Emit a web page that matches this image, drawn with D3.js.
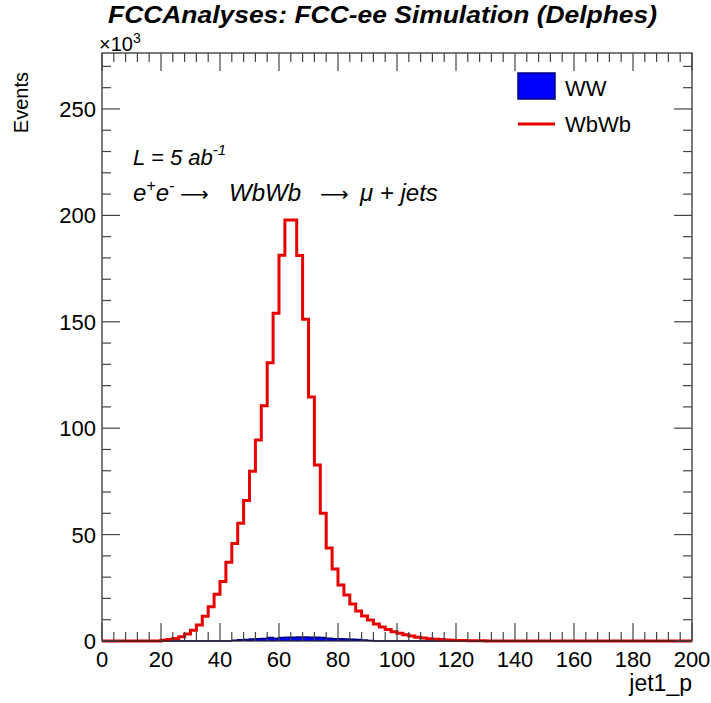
<!DOCTYPE html>
<html>
<head>
<meta charset="utf-8">
<script src="https://cdn.jsdelivr.net/npm/d3@7"></script>
<style>
  body { margin: 0; background: #fff; }
  svg { font-family: "Liberation Sans", Arial, sans-serif; }
</style>
</head>
<body>
<svg width="711" height="703"></svg>
<script>
// histogram binning: 100 bins from 0 to 200
const binEdges = d3.range(0, 202, 2);

// WbWb signal, events per bin (x10^3)
const wbwbValues = [
  0, 0, 0, 0, 0, 0, 0, 0, 0, 0.05,
  0.3, 0.7, 1.2, 2.0, 3.3, 5.0, 7.5, 11.6, 16.1, 22.0,
  28.0, 37.0, 45.8, 55.3, 66.0, 79.8, 94.5, 110.5, 130.8, 154.0,
  181.3, 197.8, 197.8, 181.2, 151.2, 114.6, 82.7, 60.0, 43.7, 33.8,
  26.3, 21.6, 17.4, 14.1, 11.8, 9.9, 8.0, 6.6, 5.4, 4.4,
  3.6, 2.9, 2.3, 1.8, 1.4, 1.1, 0.85, 0.65, 0.5, 0.38,
  0.28, 0.2, 0.15, 0.1, 0.07, 0.05, 0.04, 0.03, 0.02, 0.02,
  0.01, 0, 0, 0, 0, 0, 0, 0, 0, 0,
  0, 0, 0, 0, 0, 0, 0, 0, 0, 0,
  0, 0, 0, 0, 0, 0, 0, 0, 0, 0
];

// WW background, events per bin (x10^3)
const wwValues = [
  0, 0, 0, 0, 0, 0, 0, 0, 0, 0,
  0, 0, 0, 0, 0, 0, 0, 0, 0, 0,
  0, 0, 0.3, 0.6, 0.7, 0.9, 1.0, 1.2, 1.6, 1.3,
  1.7, 1.8, 1.8, 1.9, 1.9, 1.8, 1.8, 1.7, 1.3, 1.1,
  1.0, 0.9, 0.8, 0.7, 0.5, 0.2, 0, 0, 0, 0,
  0, 0, 0, 0, 0, 0, 0, 0, 0, 0,
  0, 0, 0, 0, 0, 0, 0, 0, 0, 0,
  0, 0, 0, 0, 0, 0, 0, 0, 0, 0,
  0, 0, 0, 0, 0, 0, 0, 0, 0, 0,
  0, 0, 0, 0, 0, 0, 0, 0, 0, 0
];

const xTicks = [0, 20, 40, 60, 80, 100, 120, 140, 160, 180, 200];
const yTicks = [0, 50, 100, 150, 200, 250];
const legendNames = ["WW", "WbWb"];

// define constants
const svg = d3.select("svg");
const margin = { left: 102, right: 19, top: 53, bottom: 62 };
const width = +svg.attr("width");
const height = +svg.attr("height");
const x0 = margin.left, x1 = width - margin.right;
const y0 = height - margin.bottom, y1 = margin.top;

const x = d3.scaleLinear().domain([0, 200]).range([x0, x1]);
const y = d3.scaleLinear().domain([0, 276.3]).range([y0, y1]);

// step path of a histogram, closed to the baseline
const stepPath = (vals) => {
  const p = d3.path();
  p.moveTo(x(binEdges[0]), y(0));
  vals.forEach((v, i) => {
    p.lineTo(x(binEdges[i]), y(v));
    p.lineTo(x(binEdges[i + 1]), y(v));
  });
  p.lineTo(x(binEdges[binEdges.length - 1]), y(0));
  return p.toString();
};

// WW filled
svg.append("path")
  .attr("d", stepPath(wwValues))
  .attr("fill", "#0000ff")
  .attr("stroke", "#00007a")
  .attr("stroke-width", 1.5);

// WbWb line
svg.append("path")
  .attr("d", stepPath(wbwbValues))
  .attr("fill", "none")
  .attr("stroke", "#e80000")
  .attr("stroke-width", 3)
  .attr("stroke-linejoin", "miter");

// frame
svg.append("rect")
  .attr("x", x0).attr("y", y1)
  .attr("width", x1 - x0).attr("height", y0 - y1)
  .attr("fill", "none")
  .attr("stroke", "#222")
  .attr("stroke-width", 1.2);

const tickColor = "#444";
const axisG = svg.append("g").attr("stroke", tickColor).attr("stroke-width", 1.2);

// x ticks, bottom and top
d3.range(0, 201, 4).forEach((v) => {
  const len = v % 20 === 0 ? 18 : 9;
  axisG.append("line").attr("x1", x(v)).attr("x2", x(v)).attr("y1", y0).attr("y2", y0 - len);
  axisG.append("line").attr("x1", x(v)).attr("x2", x(v)).attr("y1", y1).attr("y2", y1 + len);
});

// y ticks, left and right
d3.range(0, 276, 10).forEach((v) => {
  const len = v % 50 === 0 ? 18 : 9;
  axisG.append("line").attr("y1", y(v)).attr("y2", y(v)).attr("x1", x0).attr("x2", x0 + len);
  axisG.append("line").attr("y1", y(v)).attr("y2", y(v)).attr("x1", x1).attr("x2", x1 - len);
});

svg.append("g").selectAll("text")
  .data(xTicks)
  .enter().append("text")
  .attr("x", (d) => x(d))
  .attr("y", y0 + 26)
  .attr("text-anchor", "middle")
  .attr("font-size", 22)
  .text((d) => d);

svg.append("g").selectAll("text")
  .data(yTicks)
  .enter().append("text")
  .attr("x", x0 - 6)
  .attr("y", (d) => y(d) + 8)
  .attr("text-anchor", "end")
  .attr("font-size", 22)
  .text((d) => d);

// exponent label
const expo = svg.append("text").attr("x", x0 - 3).attr("y", 51).attr("font-size", 20);
expo.append("tspan").text("×10");
expo.append("tspan").attr("dy", -8).attr("font-size", 14).text("3");

// axis titles
svg.append("text")
  .attr("transform", `translate(28, 72) rotate(-90)`)
  .attr("text-anchor", "end")
  .attr("font-size", 20)
  .text("Events");

svg.append("text")
  .attr("x", x1)
  .attr("y", 691)
  .attr("text-anchor", "end")
  .attr("font-size", 23)
  .text("jet1_p");

// title
svg.append("text")
  .attr("x", 108)
  .attr("y", 23)
  .attr("font-size", 24.5)
  .attr("font-weight", "bold")
  .attr("font-style", "italic")
  .attr("textLength", 549)
  .attr("lengthAdjust", "spacingAndGlyphs")
  .text("FCCAnalyses: FCC-ee Simulation (Delphes)");

// annotations
const lumi = svg.append("text").attr("x", 133).attr("y", 165).attr("font-size", 22).attr("font-style", "italic");
lumi.append("tspan").text("L = 5 ab");
lumi.append("tspan").attr("dy", -10).attr("font-size", 15).text("-1");

const proc = svg.append("text").attr("y", 201).attr("font-size", 24).attr("font-style", "italic");
proc.append("tspan").attr("x", 133).text("e");
proc.append("tspan").attr("dy", -10).attr("font-size", 16).text("+");
proc.append("tspan").attr("dy", 10).text("e");
proc.append("tspan").attr("dy", -10).attr("font-size", 16).text("-");
proc.append("tspan").attr("dy", 10).attr("x", 180).attr("font-size", 20).attr("font-style", "normal").attr("font-family", "DejaVu Sans").text("\u27F6");
proc.append("tspan").attr("x", 229).text("WbWb");
proc.append("tspan").attr("x", 320).attr("font-size", 20).attr("font-style", "normal").attr("font-family", "DejaVu Sans").text("\u27F6");
proc.append("tspan").attr("x", 360).text("\u03bc + jets");

// legend
const legend = svg.append("g");
legend.append("rect")
  .attr("x", 518).attr("y", 73).attr("width", 37).attr("height", 26)
  .attr("fill", "#0000ff").attr("stroke", "#00007a").attr("stroke-width", 1.5);
legend.append("line")
  .attr("x1", 518).attr("x2", 555).attr("y1", 124).attr("y2", 124)
  .attr("stroke", "#e80000").attr("stroke-width", 3);
legend.selectAll("text.leg")
  .data(legendNames)
  .enter().append("text")
  .attr("class", "leg")
  .attr("x", 565)
  .attr("y", (d, i) => 96 + i * 36)
  .attr("font-size", 22)
  .text((d) => d);
</script>
</body>
</html>
